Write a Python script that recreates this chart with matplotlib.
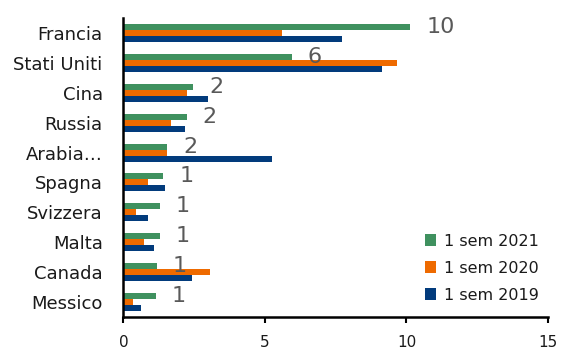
"""Horizontal grouped bars: 1 sem 2019-2021 by country."""

import matplotlib
matplotlib.use("Agg")
import matplotlib.pyplot as plt
import numpy as np

countries = ["Francia", "Stati Uniti", "Cina", "Russia", "Arabia…",
             "Spagna", "Svizzera", "Malta", "Canada", "Messico"]
sem_2021 = [10.13, 5.94, 2.47, 2.24, 1.54, 1.41, 1.28, 1.28, 1.17, 1.14]
sem_2020 = [5.60, 9.67, 2.24, 1.68, 1.54, 0.85, 0.44, 0.71, 3.07, 0.35]
sem_2019 = [7.73, 9.12, 2.97, 2.18, 5.24, 1.46, 0.85, 1.09, 2.43, 0.63]
labels_2021 = ["10", "6", "2", "2", "2", "1", "1", "1", "1", "1"]

series = [
    ("1 sem 2021", sem_2021, "#3F915F"),
    ("1 sem 2020", sem_2020, "#EE6A00"),
    ("1 sem 2019", sem_2019, "#023B7C"),
]

plt.rcParams["font.family"] = "DejaVu Sans"

fig = plt.figure(figsize=(5.68, 3.49), dpi=100)
ax = fig.add_axes([0.2174, 0.0917, 0.7474, 0.8567])

y = np.arange(len(countries))
height = 0.2
for i, (name, vals, color) in enumerate(series):
    ax.barh(y + (i - 1) * height, vals, height=height, color=color,
            label=name, edgecolor="none")

for yi, v, lab in zip(y, sem_2021, labels_2021):
    ax.annotate(lab, (v, yi - height), xytext=(11.5, 0), textcoords="offset points",
                va="center", ha="left", fontsize=16, color="#595959")

ax.set_xlim(0, 15)
ax.set_ylim(len(countries) - 0.5, -0.5)
ax.set_xticks([0, 5, 10, 15])
ax.set_yticks(y)
ax.set_yticklabels(countries, fontsize=13, color="#1a1a1a")
ax.tick_params(axis="x", labelsize=11, direction="out", length=4, width=1.5,
               color="black", labelcolor="#1a1a1a", pad=9)
ax.tick_params(axis="y", length=0, pad=15)
for side in ["top", "right"]:
    ax.spines[side].set_visible(False)
for side in ["left", "bottom"]:
    ax.spines[side].set_linewidth(1.8)
    ax.spines[side].set_color("black")

ax.legend(loc="lower right", bbox_to_anchor=(1.012, 0.0), frameon=False,
          fontsize=11.5, handlelength=0.7, handleheight=0.7, handletextpad=0.5,
          labelspacing=0.75, labelcolor="#1a1a1a")

fig.savefig("out.png", dpi=100)
